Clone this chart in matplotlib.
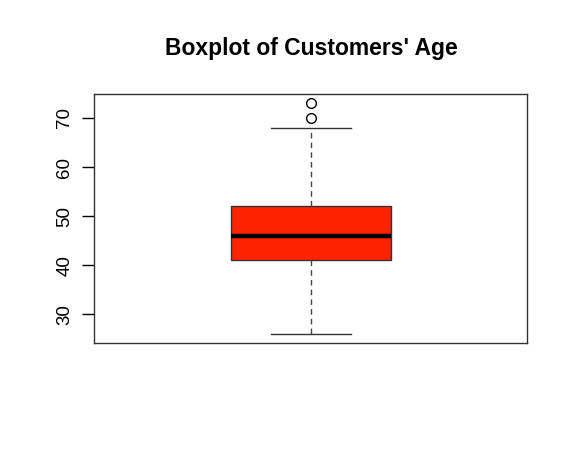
import matplotlib
matplotlib.use('Agg')
import matplotlib.pyplot as plt

# boxplot statistics for customers' age
age_min = 26
age_q1 = 41
age_median = 46
age_q3 = 52
age_max = 68
age_outliers = [70, 73]
y_ticks = [30, 40, 50, 60, 70]

plt.rcParams['font.family'] = ['Liberation Sans', 'DejaVu Sans']

fig = plt.figure(figsize=(5.76, 4.62), dpi=100)
ax = fig.add_axes([0.1637, 0.2576, 0.915 - 0.1637, 0.7965 - 0.2576])

stats = [{
    'whislo': age_min, 'q1': age_q1, 'med': age_median,
    'q3': age_q3, 'whishi': age_max, 'fliers': age_outliers,
}]
ax.bxp(stats, positions=[0.5], widths=0.37, patch_artist=True,
       showcaps=True,
       boxprops=dict(facecolor='#ff2200', edgecolor='#333333', linewidth=1),
       medianprops=dict(color='black', linewidth=3.2),
       whiskerprops=dict(color='#444444', linewidth=1, linestyle=(0, (4, 3))),
       capprops=dict(color='#333333', linewidth=1),
       flierprops=dict(marker='o', markerfacecolor='none', markeredgecolor='black',
                       markersize=7, markeredgewidth=1),
       capwidths=0.185)

ax.set_xlim(0, 1)
span = age_outliers[-1] - age_min
ax.set_ylim(age_min - 0.04 * span, age_outliers[-1] + 0.04 * span)
ax.set_xticks([])
ax.set_yticks(y_ticks)
ax.set_yticklabels([str(t) for t in y_ticks], rotation=90, va='center', fontsize=13.5)
ax.tick_params(axis='y', length=9, width=1, pad=6)
for s in ax.spines.values():
    s.set_color('#333333')
    s.set_linewidth(1)

fig.text(0.5401, 0.896, "Boxplot of Customers' Age", ha='center', va='center',
         fontsize=16.5, fontweight='bold')

fig.savefig('out.png', dpi=100)
